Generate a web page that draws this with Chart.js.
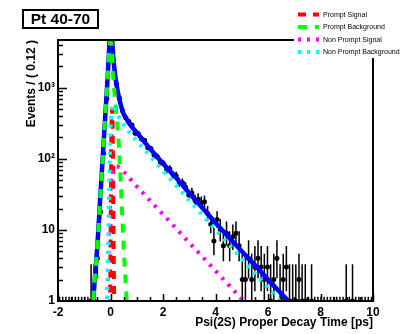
<!DOCTYPE html>
<html>
<head>
<meta charset="utf-8">
<script src="https://cdn.jsdelivr.net/npm/chart.js@4.4.1/dist/chart.umd.min.js"></script>
<style>
  html, body { margin: 0; padding: 0; background: #fff; }
  #wrap { width: 400px; height: 334px; }
</style>
</head>
<body>
<div id="wrap"><canvas id="myChart" width="400" height="334"></canvas></div>
<script>
// Histogram of proper decay time: 100 bins of 0.12 ps starting at -2 ps
const binStart = -2;
const binWidth = 0.12;
const counts = [
  0, 0, 0, 0, 0, 0, 0, 0, 0, 0,
  1, 1, 4, 18, 120, 700, 5600, 2500, 1150, 720,
  470, 380, 335, 300, 230, 225, 190, 182, 145, 140,
  112, 108, 88, 86, 70, 72, 60, 58, 47, 46,
  40, 31, 33, 26, 27, 24, 25, 17, 12, 7,
  14, 10, 6, 9, 6, 8, 9, 6, 2, 2,
  4, 2, 3, 4, 3, 2, 3, 1, 2, 4,
  1, 2, 3, 1, 1, 1, 2, 1, 1, 0,
  1, 0, 0, 0, 0, 0, 0, 0, 0, 0,
  0, 1, 0, 1, 0, 0, 0, 0, 0, 0
];

// 68% Poisson intervals for small counts
const poissonLow = [0, 0.173, 0.708, 1.367, 2.086, 2.840, 3.620, 4.419, 5.232, 6.057, 6.891];
const poissonHigh = [1.148, 3.300, 4.638, 5.918, 7.163, 8.382, 9.584, 10.77, 11.95, 13.11, 14.27];

// Fit projections (events per bin)
const totalX = [-0.7, -0.6, -0.5, -0.4, -0.3, -0.2, -0.1, -0.03, 0, 0.05, 0.1, 0.2, 0.3, 0.4, 0.5, 0.6, 0.7, 1.0, 1.5, 2.0, 2.5, 3.0, 3.5, 4.0, 4.5, 5.0, 5.5, 6.0, 6.5, 7.0, 7.5];
const totalY = [0.6, 2, 6, 25, 100, 400, 1600, 5000, 7000, 5500, 2800, 1300, 800, 560, 430, 370, 320, 235, 140, 86, 54, 33, 20.5, 12.6, 7.9, 5.0, 3.2, 2.0, 1.28, 0.82, 0.52];

const promptSigX = [-0.03, 0, 0.03, 0.06, 0.09, 0.12, 0.15];
const promptSigY = [0.5, 5, 150, 500, 150, 5, 0.5];

const promptBkgX = [-0.7, -0.6, -0.5, -0.4, -0.3, -0.2, -0.1, -0.03, 0, 0.05, 0.1, 0.2, 0.3, 0.4, 0.5, 0.6, 0.7];
const promptBkgY = [0.6, 2, 6, 24, 95, 380, 1500, 4000, 4500, 3800, 1500, 550, 200, 40, 6, 1.3, 0.3];

const nonPromptSigX = [-0.15, -0.1, -0.05, 0, 0.05, 0.1, 0.2, 0.3, 0.5, 1.0, 1.5, 2.0, 2.5, 3.0, 3.5, 4.0, 4.5, 5.0, 5.5];
const nonPromptSigY = [0.6, 2, 10, 35, 60, 72, 78, 77, 66, 41, 26, 16.5, 10.5, 6.6, 4.2, 2.65, 1.68, 1.06, 0.67];

const nonPromptBkgX = [-0.15, -0.1, -0.05, 0, 0.05, 0.1, 0.2, 0.3, 0.5, 1.0, 1.5, 2.0, 2.5, 3.0, 3.5, 4.0, 4.5, 5.0, 5.5, 6.0, 6.5, 7.0];
const nonPromptBkgY = [0.6, 3, 40, 250, 520, 580, 480, 400, 300, 180, 110, 68, 42, 26, 16.2, 10, 6.3, 3.9, 2.45, 1.52, 0.95, 0.6];

const xTickStep = 2;
const yTickValues = [1, 10, 100, 1000];
const yTickLabels = ['1', '10', '10²', '10³'];
const legendLabels = ['Prompt Signal', 'Prompt Background', 'Non Prompt Signal', 'Non Prompt Background'];

const FONT = '"Liberation Sans", Arial, Helvetica, sans-serif';
Chart.defaults.font.family = FONT;

function pairs(xs, ys) {
  return xs.map((x, i) => ({ x: x, y: ys[i] }));
}

function binCenter(i) {
  return binStart + binWidth * (i + 0.5);
}

function poissonInterval(n) {
  if (n < poissonLow.length) return [poissonLow[n], poissonHigh[n]];
  const s = Math.sqrt(n + 0.25);
  return [n + 0.5 - s, n + 0.5 + s];
}

const dataPoints = counts.map((n, i) => ({ x: binCenter(i), y: n > 0 ? n : null }));

// axes frame, inward ticks, error bars, legend and label box in ROOT style
const rootStyle = {
  id: 'rootStyle',
  beforeDatasetsDraw(chart) {
    const { ctx, chartArea: a, scales: { x, y } } = chart;
    ctx.save();
    ctx.beginPath();
    ctx.rect(a.left, a.top, a.right - a.left, a.bottom - a.top);
    ctx.clip();
    ctx.strokeStyle = '#000';
    ctx.lineWidth = 1.5;
    counts.forEach((n, i) => {
      const c = binCenter(i);
      const [lo, hi] = poissonInterval(n);
      const px = x.getPixelForValue(c);
      ctx.beginPath();
      ctx.moveTo(px, lo > 0 ? y.getPixelForValue(lo) : a.bottom + 2);
      ctx.lineTo(px, y.getPixelForValue(hi));
      if (n > 0) {
        const py = y.getPixelForValue(n);
        ctx.moveTo(x.getPixelForValue(c - binWidth / 2), py);
        ctx.lineTo(x.getPixelForValue(c + binWidth / 2), py);
      }
      ctx.stroke();
    });
    ctx.restore();
  },
  afterDraw(chart) {
    const { ctx, chartArea: a, scales: { x, y } } = chart;
    ctx.save();
    ctx.strokeStyle = '#000';

    // ticks on the left axis (log)
    ctx.lineWidth = 1.5;
    ctx.beginPath();
    for (let d = 1; d <= 1000; d *= 10) {
      for (let m = 1; m < 10; m++) {
        const v = d * m;
        if (v > y.max) break;
        if (v === 1) continue;
        const py = Math.round(y.getPixelForValue(v)) + 0.5;
        const len = m === 1 ? 9 : 5;
        ctx.moveTo(a.left, py);
        ctx.lineTo(a.left + len, py);
      }
    }
    // ticks on the bottom axis
    for (let v = x.min; v <= x.max + 1e-9; v += 0.5) {
      const px = Math.round(x.getPixelForValue(v)) + 0.5;
      const len = Math.abs(v % 2) < 1e-9 ? 7 : 4;
      ctx.moveTo(px, a.bottom);
      ctx.lineTo(px, a.bottom - len);
    }
    ctx.stroke();

    // frame
    ctx.lineWidth = 2;
    ctx.strokeRect(a.left, a.top, a.right - a.left, a.bottom - a.top);

    // legend
    ctx.fillStyle = '#fff';
    ctx.fillRect(294, 4, 106, 54);
    ctx.font = '7px ' + FONT;
    ctx.textBaseline = 'middle';
    ctx.textAlign = 'left';
    legendLabels.forEach((label, i) => {
      const ds = chart.data.datasets.find(d => d.label === label);
      const ly = 14.5 + i * 12.5;
      ctx.save();
      ctx.strokeStyle = ds.borderColor;
      ctx.lineWidth = ds.borderWidth;
      ctx.setLineDash(ds.borderDash || []);
      ctx.beginPath();
      ctx.moveTo(298, ly);
      ctx.lineTo(319, ly);
      ctx.stroke();
      ctx.restore();
      ctx.fillStyle = '#000';
      ctx.fillText(label, 323, ly + 0.5);
    });

    // bin label box
    ctx.fillStyle = '#fff';
    ctx.fillRect(23, 10, 75, 18);
    ctx.lineWidth = 2;
    ctx.strokeRect(23, 10, 75, 18);
    ctx.fillStyle = '#000';
    ctx.font = 'bold 15.5px ' + FONT;
    ctx.textAlign = 'center';
    ctx.fillText('Pt 40-70', 60.5, 19.5);
    ctx.restore();
  }
};

const ctx = document.getElementById('myChart').getContext('2d');
const myChart = new Chart(ctx, {
  type: 'line',
  data: {
    datasets: [
      {
        label: 'Non Prompt Background',
        data: pairs(nonPromptBkgX, nonPromptBkgY),
        borderColor: '#00ffff',
        borderWidth: 4,
        borderDash: [3, 6],
        pointRadius: 0,
        cubicInterpolationMode: 'monotone',
        clip: 0,
        order: 1
      },
      {
        label: 'Non Prompt Signal',
        data: pairs(nonPromptSigX, nonPromptSigY),
        borderColor: '#ff00ff',
        borderWidth: 4,
        borderDash: [3, 6],
        pointRadius: 0,
        cubicInterpolationMode: 'monotone',
        clip: 0,
        order: 2
      },
      {
        label: 'Prompt Background',
        data: pairs(promptBkgX, promptBkgY),
        borderColor: '#00ff00',
        borderWidth: 4,
        borderDash: [9, 8],
        pointRadius: 0,
        cubicInterpolationMode: 'monotone',
        clip: 0,
        order: 3
      },
      {
        label: 'Prompt Signal',
        data: pairs(promptSigX, promptSigY),
        borderColor: '#ff0000',
        borderWidth: 4,
        borderDash: [8, 7],
        pointRadius: 0,
        cubicInterpolationMode: 'monotone',
        clip: 0,
        order: 4
      },
      {
        label: 'Total',
        data: pairs(totalX, totalY),
        borderColor: '#0000ff',
        borderWidth: 4.5,
        pointRadius: 0,
        cubicInterpolationMode: 'monotone',
        clip: 0,
        order: 5
      },
      {
        label: 'Data',
        data: dataPoints,
        showLine: false,
        pointRadius: 2.5,
        pointBorderWidth: 0,
        pointBackgroundColor: '#000',
        pointBorderColor: '#000',
        order: 6
      }
    ]
  },
  options: {
    responsive: false,
    animation: false,
    devicePixelRatio: 1,
    layout: { padding: { left: 0, top: 40, right: 27, bottom: 0 } },
    scales: {
      x: {
        type: 'linear',
        min: -2,
        max: 10,
        grid: { display: false, drawTicks: false },
        border: { display: false },
        ticks: {
          stepSize: xTickStep,
          maxRotation: 0,
          autoSkip: false,
          padding: 4,
          color: '#000',
          font: { size: 12, weight: 'bold' }
        },
        title: {
          display: true,
          text: 'Psi(2S) Proper Decay Time [ps]',
          align: 'end',
          color: '#000',
          font: { size: 12, weight: 'bold' },
          padding: { top: 0, bottom: 4 }
        },
        afterFit(s) {
          s.height = 33;
          s.paddingLeft = 0;
          s.paddingRight = 0;
        }
      },
      y: {
        type: 'logarithmic',
        min: 1,
        max: 4700,
        grid: { display: false, drawTicks: false },
        border: { display: false },
        afterBuildTicks(s) {
          s.ticks = yTickValues.map(v => ({ value: v }));
        },
        ticks: {
          padding: 3,
          color: '#000',
          font: { size: 12, weight: 'bold' },
          callback: v => yTickLabels[yTickValues.indexOf(v)]
        },
        title: {
          display: true,
          text: 'Events / ( 0.12 )',
          align: 'end',
          color: '#000',
          font: { size: 12, weight: 'bold' },
          padding: { top: 24, bottom: 0 }
        },
        afterFit(s) {
          s.width = 58;
          s.paddingTop = 0;
          s.paddingBottom = 0;
        }
      }
    },
    plugins: {
      legend: { display: false },
      tooltip: { enabled: false }
    }
  },
  plugins: [rootStyle]
});
</script>
</body>
</html>
